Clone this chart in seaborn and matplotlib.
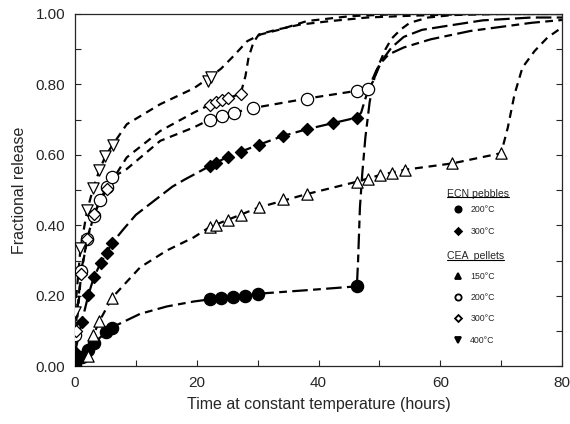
import numpy as np
import pandas as pd
import matplotlib
import matplotlib.pyplot as plt
from matplotlib.lines import Line2D
from matplotlib.ticker import MultipleLocator, FormatStrFormatter
from matplotlib.transforms import IdentityTransform
import seaborn as sns

ecn200_t = [0, 1.1, 2.2, 3.1, 5.1, 6.0, 22.1, 24.0, 26.0, 28.0, 30.0, 46.3]
ecn200_f = [0.005, 0.026, 0.045, 0.066, 0.097, 0.11, 0.19, 0.193, 0.197, 0.201, 0.206, 0.227]

ecn300_t = [0, 1.1, 2.2, 3.1, 4.2, 5.2, 6.1, 22.2, 23.2, 25.1, 27.2, 30.2, 34.2, 38.1, 42.3, 46.3]
ecn300_f = [0.04, 0.125, 0.203, 0.253, 0.293, 0.323, 0.35, 0.569, 0.576, 0.595, 0.607, 0.629,
            0.654, 0.673, 0.69, 0.706]

cea150_t = [2.2, 3.0, 4.0, 6.1, 22.1, 23.2, 25.1, 27.2, 30.2, 34.2, 38.1, 46.3, 48.2, 50.1,
            52.1, 54.2, 62.0, 70.0]
cea150_f = [0.028, 0.088, 0.128, 0.195, 0.395, 0.402, 0.416, 0.43, 0.451, 0.475, 0.489, 0.524,
            0.533, 0.543, 0.548, 0.558, 0.576, 0.605]

cea200_t = [0, 1.0, 2.0, 3.1, 4.1, 5.2, 6.1, 22.1, 24.1, 26.1, 29.2, 38.1, 46.3, 48.2]
cea200_f = [0.09, 0.27, 0.36, 0.428, 0.472, 0.508, 0.536, 0.70, 0.711, 0.72, 0.733, 0.76,
            0.782, 0.787]

cea300_t = [0.2, 1.0, 2.0, 3.1, 5.2, 22.1, 23.2, 24.1, 25.2, 27.2]
cea300_f = [0.10, 0.262, 0.362, 0.432, 0.503, 0.742, 0.749, 0.755, 0.761, 0.774]

cea400_t = [0, 0.9, 2.0, 3.0, 4.0, 5.0, 6.2, 21.8, 22.3]
cea400_f = [0.155, 0.335, 0.443, 0.506, 0.556, 0.597, 0.629, 0.81, 0.822]

# --- trend curves (dashed) ---
ecn200_ct = [0, 1.1, 2.2, 3.1, 5.1, 6.0, 10.7, 15.1, 19.5, 22.1, 26, 30, 38, 46.3, 46.5, 46.8,
             47.2, 47.7, 48.4, 49.2, 50.2, 51.5, 54, 58.4, 65, 75, 80]
ecn200_cf = [0.005, 0.026, 0.045, 0.066, 0.097, 0.11, 0.149, 0.17, 0.184, 0.19, 0.197, 0.206,
             0.216, 0.227, 0.30, 0.45, 0.55, 0.65, 0.75, 0.82, 0.86, 0.885, 0.905, 0.928,
             0.952, 0.975, 0.983]

ecn300_ct = [0, 1.1, 2.2, 3.1, 4.2, 5.2, 6.1, 8, 10, 13, 16, 18, 22.2, 25.1, 30.2, 34.2, 38.1,
             42.3, 46.3, 47, 47.7, 48.5, 49.5, 50.5, 52, 54, 57, 61, 67, 75, 80]
ecn300_cf = [0.04, 0.125, 0.203, 0.253, 0.293, 0.323, 0.35, 0.39, 0.43, 0.47, 0.51, 0.53,
             0.569, 0.595, 0.629, 0.654, 0.673, 0.69, 0.706, 0.72, 0.76, 0.80, 0.84, 0.87,
             0.905, 0.935, 0.955, 0.966, 0.982, 0.99, 0.99]

cea150_ct = [2.2, 3.0, 4.0, 6.1, 10.7, 15.1, 19.5, 22.1, 25.1, 30.2, 38.1, 46.3, 50.1, 54.2,
             62, 70, 71.1, 72.2, 73.5, 75.5, 77.6, 80]
cea150_cf = [0.028, 0.088, 0.128, 0.195, 0.281, 0.329, 0.366, 0.395, 0.416, 0.451, 0.489,
             0.524, 0.543, 0.558, 0.576, 0.605, 0.678, 0.772, 0.848, 0.895, 0.933, 0.962]

cea200_ct = [0, 1.0, 2.0, 3.1, 4.1, 5.2, 6.1, 8.5, 14, 19.5, 22.1, 26.1, 29.2, 38.1, 46.3,
             48.2, 49, 50, 51, 52, 53.5, 55, 58, 62, 70, 80]
cea200_cf = [0.09, 0.27, 0.36, 0.428, 0.472, 0.508, 0.536, 0.56, 0.64, 0.678, 0.70, 0.72,
             0.733, 0.76, 0.782, 0.787, 0.81, 0.86, 0.90, 0.93, 0.956, 0.975, 0.99, 0.997,
             1.0, 1.0]

cea300_ct = [0.2, 1.0, 2.0, 3.1, 5.2, 8.5, 14, 19.5, 22.1, 25.2, 27.2, 27.4, 28, 28.5, 29.3,
             30.2, 33, 37, 42, 48, 55, 65, 80]
cea300_cf = [0.10, 0.262, 0.362, 0.432, 0.503, 0.593, 0.668, 0.72, 0.742, 0.761, 0.774,
             0.786, 0.824, 0.876, 0.919, 0.942, 0.955, 0.97, 0.98, 0.99, 0.995, 1.0, 1.0]

cea400_ct = [0, 0.9, 2.0, 3.0, 4.0, 5.0, 6.2, 8.5, 14, 19.5, 22.3, 24, 26, 28.3, 30.5, 33.7,
             38.1, 45.3, 53.5, 80]
cea400_cf = [0.155, 0.335, 0.443, 0.506, 0.556, 0.597, 0.629, 0.687, 0.744, 0.789, 0.822,
             0.845, 0.88, 0.923, 0.942, 0.956, 0.98, 0.994, 1.0, 1.0]

series = ["ECN 200", "ECN 300", "CEA 150", "CEA 200", "CEA 300", "CEA 400"]
legend_labels = ["200°C", "300°C", "150°C", "200°C", "300°C", "400°C"]

pts = {"ECN 200": (ecn200_t, ecn200_f), "ECN 300": (ecn300_t, ecn300_f),
       "CEA 150": (cea150_t, cea150_f), "CEA 200": (cea200_t, cea200_f),
       "CEA 300": (cea300_t, cea300_f), "CEA 400": (cea400_t, cea400_f)}
curves = {"ECN 200": (ecn200_ct, ecn200_cf), "ECN 300": (ecn300_ct, ecn300_cf),
          "CEA 150": (cea150_ct, cea150_cf), "CEA 200": (cea200_ct, cea200_cf),
          "CEA 300": (cea300_ct, cea300_cf), "CEA 400": (cea400_ct, cea400_cf)}

pts_df = pd.concat([pd.DataFrame({"t": v[0], "f": v[1], "series": k}) for k, v in pts.items()])
curve_df = pd.concat([pd.DataFrame({"t": v[0], "f": v[1], "series": k}) for k, v in curves.items()])

markers = {"ECN 200": "o", "ECN 300": "D", "CEA 150": "^", "CEA 200": "o",
           "CEA 300": "D", "CEA 400": "v"}
faces = {"ECN 200": "black", "ECN 300": "black", "CEA 150": "white", "CEA 200": "white",
         "CEA 300": "white", "CEA 400": "white"}
# dash patterns (scaled by line width)
dashes = {"ECN 200": (7, 2.4, 3.5, 2.4), "ECN 300": (7, 2.4), "CEA 150": (3.6, 2.6),
          "CEA 200": (3.6, 2.6), "CEA 300": (3.6, 2.6), "CEA 400": (3.6, 2.6)}

# --- style ---
sns.set_style("ticks")
plt.rcParams['font.family'] = ['Liberation Sans', 'DejaVu Sans']

fig, ax = plt.subplots(figsize=(5.7, 4.24), dpi=100)
fig.subplots_adjust(left=0.1316, right=0.986, bottom=0.136, top=0.967)

sns.lineplot(data=curve_df, x="t", y="f", style="series", dashes=dashes, color="black",
             lw=1.6, estimator=None, sort=False, legend=False, ax=ax, zorder=2)

sizes_pt = {"o": 78, "D": 38, "^": 66, "v": 66}
for s in series:
    d = pts_df[pts_df["series"] == s]
    sns.scatterplot(data=d, x="t", y="f", marker=markers[s], s=sizes_pt[markers[s]],
                    color=faces[s], edgecolor="black", linewidth=0.9, ax=ax, zorder=3,
                    legend=False)

ax.set_xlim(0, 80)
ax.set_ylim(0, 1.0)
ax.xaxis.set_major_locator(MultipleLocator(20))
ax.xaxis.set_minor_locator(MultipleLocator(10))
ax.yaxis.set_major_locator(MultipleLocator(0.2))
ax.yaxis.set_minor_locator(MultipleLocator(0.1))
ax.yaxis.set_major_formatter(FormatStrFormatter("%.2f"))
ax.tick_params(which="both", direction="in", right=True, top=False, length=4, width=0.8,
               labelsize=11, pad=7)
for sp in ax.spines.values():
    sp.set_linewidth(0.9)
ax.set_xlabel("Time at constant temperature (hours)", fontsize=11.5, labelpad=5)
ax.set_ylabel("Fractional release", fontsize=11.5, labelpad=6)

# --- legend ---
def handle(s, small=4.5):
    face = "black" if markers[s] in ("^", "v") or faces[s] == "black" else "white"
    ms = small - 1 if markers[s] == "D" else small
    return Line2D([], [], marker=markers[s], linestyle="none", markersize=ms,
                  markerfacecolor=face, markeredgecolor="black", markeredgewidth=1.3)

leg_kw = dict(frameon=False, fontsize=6.3, handlelength=1.5, handletextpad=0.65,
              labelspacing=1.4, borderpad=0, borderaxespad=0, loc="upper left")
leg1 = ax.legend([handle(s) for s in series[:2]], legend_labels[:2],
                 bbox_to_anchor=(0.773, 0.457), **leg_kw)
ax.add_artist(leg1)
leg2 = ax.legend([handle(s) for s in series[2:]], legend_labels[2:],
                 bbox_to_anchor=(0.773, 0.268), **leg_kw)

h1 = ax.text(0.764, 0.49, "ECN pebbles", transform=ax.transAxes, fontsize=7.6,
             ha="left", va="center")
h2 = ax.text(0.764, 0.313, "CEA  pellets", transform=ax.transAxes, fontsize=7.6,
             ha="left", va="center")

fig.canvas.draw()
for h in (h1, h2):
    bb = h.get_window_extent()
    y = bb.y0 + 1.5
    fig.add_artist(Line2D([bb.x0, bb.x1], [y, y], transform=IdentityTransform(),
                          color="black", lw=0.8))

fig.savefig("out.png", dpi=100)
